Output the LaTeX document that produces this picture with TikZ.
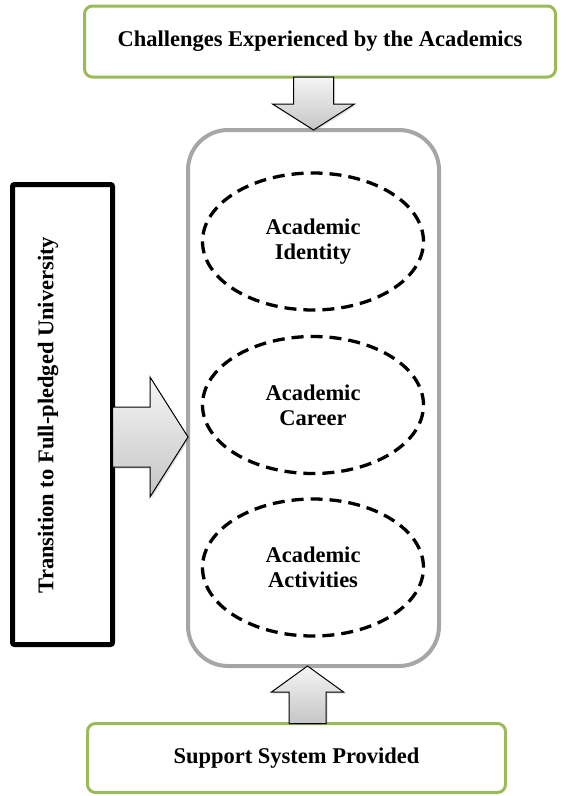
\documentclass[tikz,border=0pt]{standalone}
\usepackage{fontspec}
\setmainfont{Liberation Serif}
\usetikzlibrary{shapes.geometric,calc,shadows}
\definecolor{boxgreen}{RGB}{155,187,89}
\definecolor{framegray}{RGB}{166,166,166}
\tikzset{
  greenbox/.style={draw=boxgreen, line width=3pt, rounded corners=8pt, fill=white,
    inner sep=0pt, outer sep=0pt},
  grayframe/.style={draw=framegray, line width=4pt, rounded corners=40pt, fill=white,
    inner sep=0pt, outer sep=0pt},
  blackbox/.style={draw=black, line width=5pt, rounded corners=2pt, fill=white,
    inner sep=0pt, outer sep=0pt},
  oval/.style={ellipse, draw=black, line width=3.3pt, dash pattern=on 12pt off 7pt,
    minimum width=221pt, minimum height=137pt, inner sep=0pt, align=center},
  fatarrow/.style={draw=black, line width=1pt, top color=gray!8, bottom color=gray!45,
    drop shadow={opacity=0.25, shadow xshift=1.5pt, shadow yshift=-1.5pt}},
  txt/.style={font=\bfseries\fontsize{22.5}{25}\selectfont}
}
\begin{document}
\begin{tikzpicture}[x=1pt, y=-1pt]
\useasboundingbox (0,0) rectangle (574,796);
% boxes
\node[greenbox, minimum width=471pt, minimum height=71pt, txt] (challenges) at (320,41.5)
  {Challenges Experienced by the Academics};
\node[grayframe, minimum width=251pt, minimum height=536pt] (frame) at (313.5,398) {};
\node[blackbox, minimum width=100pt, minimum height=460pt] (transition) at (62.5,414.5) {};
\node[txt, rotate=90] (transtext) at (48,415) {Transition to Full-pledged University};
\node[greenbox, minimum width=418pt, minimum height=69pt, txt] (support) at (296.5,758)
  {Support System Provided};
% ovals
\node[oval, txt] (identity) at (313,241.5) {Academic\\Identity};
\node[oval, txt] (career) at (313,405) {Academic\\Career};
\node[oval, txt] (activities) at (313,567.5) {Academic\\Activities};
% arrow points
\coordinate (dtip) at (frame.north);
\coordinate (dl) at ($(dtip)+(-20,0)$);
\coordinate (dr) at ($(dtip)+(20,0)$);
\coordinate (rtip) at ($(frame.west)+(0,39)$);
\coordinate (rt) at ($(rtip)+(0,-30)$);
\coordinate (rb) at ($(rtip)+(0,30)$);
\coordinate (utip) at ($(frame.south)+(-6,0)$);
\coordinate (ul) at ($(utip)+(-18.5,0)$);
\coordinate (ur) at ($(utip)+(18.5,0)$);
% down arrow
\draw[fatarrow] (dtip) -- ++(-41,-26) -- ++(21,0) -- (dl |- challenges.south)
  -- (dr |- challenges.south) -- ($(dr)+(0,-26)$) -- ++(21,0) -- cycle;
% right arrow
\draw[fatarrow] (rtip) -- ++(-38,-60) -- ++(0,30) -- (transition.east |- rt)
  -- (transition.east |- rb) -- ($(rb)+(-38,0)$) -- ++(0,30) -- cycle;
% up arrow
\draw[fatarrow] (utip) -- ++(-36,26) -- ++(17.5,0) -- (ul |- support.north)
  -- (ur |- support.north) -- ($(ur)+(0,26)$) -- ++(17.5,0) -- cycle;
\end{tikzpicture}
\end{document}
